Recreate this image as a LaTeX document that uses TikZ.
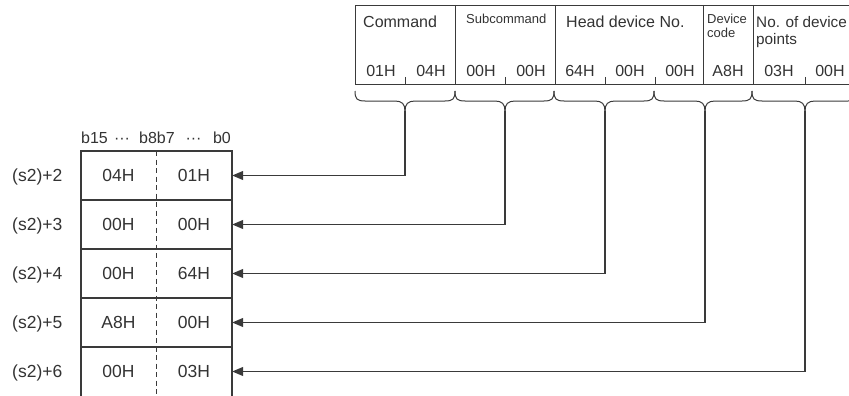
\documentclass[tikz,border=0pt]{standalone}
\usepackage{fontspec}
\setmainfont{Liberation Sans}
\usetikzlibrary{arrows.meta}
\definecolor{ink}{HTML}{333333}
\definecolor{lin}{HTML}{3A3A3A}
\begin{document}
\begin{tikzpicture}[x=1pt,y=-1pt,
  every node/.style={text=ink,font=\fontsize{16}{19}\selectfont},
  lbl/.style={inner sep=0pt, anchor=base west},
  small/.style={font=\fontsize{13}{15}\selectfont},
  mid/.style={font=\fontsize{15.3}{18}\selectfont},
  big/.style={font=\fontsize{17.5}{20}\selectfont},
  val/.style={inner sep=0pt, anchor=base},
  frame/.style={draw=lin, line width=1.1pt},
  thin/.style={draw=lin, line width=0.9pt},
  dashline/.style={draw=lin, line width=1pt, dash pattern=on 5pt off 3.5pt},
  arr/.style={draw=lin, line width=1.1pt, -{Triangle[length=11pt,width=9pt]}},
  bracestyle/.style={draw=lin, line width=1pt},
  cell/.style={minimum width=151pt, minimum height=49pt, inner sep=0pt},
  half/.style={inner sep=0pt, anchor=center, big}
]
\clip (0,0) rectangle (849,396);
% ---------- top table ----------
\draw[thin] (355,84) -- (355,5) -- (860,5);
\draw[thin] (355,84) -- (860,84);
\foreach \x in {455,555,703,753} \draw[thin] (\x,5) -- (\x,84);
\foreach \x in {405,505,605,655,805} \draw[thin] (\x,77) -- (\x,84);
\node[lbl] (fcmd) at (363,28) {Command};
\node[lbl,small] (fsub) at (466,24) {Subcommand};
\node[lbl] (fhead) at (566,28) {Head device No.};
\node[lbl,small] (fdev1) at (707,24) {Device};
\node[lbl,small] (fdev2) at (707,38) {code};
\node[lbl,mid] (fpts1) at (756,28) {No. of device};
\node[lbl,mid] (fpts2) at (756,45) {points};
\foreach \x/\v/\n in {381/01H/1,431/04H/2,481/00H/3,531/00H/4,580/64H/5,630/00H/6,680/00H/7,728/A8H/8,779/03H/9,830/00H/10}
  \node[val] (b\n) at (\x,77) {\v};
% ---------- braces ----------
\foreach \a/\m/\b/\n in {355/405/455/1,455/505/554/2,554/605/654/3,654/705/752/4,752/805/858/5}{
  \draw[bracestyle] (\a,91) .. controls (\a,99) and ({\a+2},101) .. ({\a+10},101)
     -- ({\m-10},101) .. controls ({\m-3},101) and (\m,104) .. (\m,111);
  \draw[bracestyle] (\b,91) .. controls (\b,99) and ({\b-2},101) .. ({\b-10},101)
     -- ({\m+10},101) .. controls ({\m+3},101) and (\m,104) .. (\m,111);
  \coordinate (t\n) at (\m,111);
}
% ---------- left table ----------
\node[lbl] (hb15) at (81,143) {b15};
\node[val] (hd1) at (122,143) {···};
\node[val] (hb8b7) at (157,143) {b8b7};
\node[val] (hd2) at (193.5,143) {···};
\node[inner sep=0pt, anchor=base east] (hb0) at (231,143) {b0};
\foreach \i/\hi/\lo/\lab in {1/04H/01H/2,2/00H/00H/3,3/00H/64H/4,4/A8H/00H/5,5/00H/03H/6}{
  \pgfmathsetmacro{\yc}{175.5+49*(\i-1)}
  \node[cell] (r\i) at (156.5,\yc) {};
  \node[half] (h\i) at (118.5,\yc) {\hi};
  \node[half] (l\i) at (194,\yc) {\lo};
  \node[lbl,big] (s\i) at (12,\yc+6) {(s2)+\lab};
}
\draw[frame] (81,400) -- (81,151) -- (232,151) -- (232,400);
\foreach \y in {200,249,298,347} \draw[frame] (81,\y) -- (232,\y);
\draw[dashline] (156.5,151) -- (156.5,400);
% ---------- connectors ----------
\foreach \n in {1,...,5} \draw[arr] (t\n) |- (r\n.east);
\end{tikzpicture}
\end{document}
